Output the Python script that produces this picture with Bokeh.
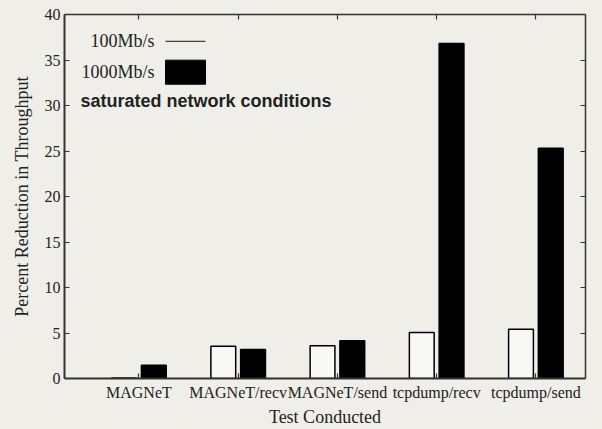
from bokeh.plotting import figure
from bokeh.models import Range1d, LinearAxis, FixedTicker, ColumnDataSource
from bokeh.core.properties import value
from bokeh.embed import file_html
from bokeh.resources import INLINE

# ---- data ----
categories = ["MAGNeT", "MAGNeT/recv", "MAGNeT/send", "tcpdump/recv", "tcpdump/send"]
rate_100 = [0.05, 3.55, 3.6, 5.05, 5.4]
rate_1000 = [1.45, 3.2, 4.15, 36.8, 25.3]
y_ticks = [0, 5, 10, 15, 20, 25, 30, 35, 40]
series_names = ["100Mb/s", "1000Mb/s"]
note_text = "saturated network conditions"

positions = list(range(1, len(categories) + 1))
src = ColumnDataSource(dict(
    x100=[x - 0.15 for x in positions],
    x1000=[x + 0.15 for x in positions],
    v100=rate_100,
    v1000=rate_1000,
))

BG = "#f0eee9"
SERIF = "Liberation Serif"
SANS = "Liberation Sans"
AX = "#333333"

p = figure(width=602, height=429,
           x_range=Range1d(0.25, 5.5), y_range=Range1d(0, 40),
           output_backend="svg", toolbar_location=None,
           min_border_left=64, min_border_right=17,
           min_border_top=14, min_border_bottom=49,
           background_fill_color=BG, border_fill_color=BG)
p.outline_line_color = None
p.xgrid.visible = False
p.ygrid.visible = False

# bars
p.vbar(x="x100", top="v100", bottom=0, width=0.25, source=src,
       fill_color="#f8f8f6", line_color="black", line_width=1.5)
p.vbar(x="x1000", top="v1000", bottom=0, width=0.25, source=src,
       fill_color="black", line_color="black", line_width=1.5)

# axes
def style(ax, ticks, labels=None, lw=1.5):
    ax.ticker = FixedTicker(ticks=ticks)
    ax.axis_line_color = AX
    ax.axis_line_width = lw
    ax.major_tick_line_color = AX
    ax.major_tick_line_width = 1.2
    ax.major_tick_in = 5
    ax.major_tick_out = 0
    ax.minor_tick_line_color = None
    ax.major_label_text_font = SERIF
    ax.major_label_text_font_size = "16px"
    ax.major_label_text_color = "#222222"
    if labels is not None:
        ax.major_label_overrides = {t: l for t, l in zip(ticks, labels)}

xa = p.xaxis[0]
style(xa, positions, categories, lw=2)
xa.major_label_standoff = 5
xa.axis_label = "Test Conducted"
xa.axis_label_text_font = SERIF
xa.axis_label_text_font_size = "18px"
xa.axis_label_text_font_style = "normal"
xa.axis_label_text_color = "#222222"
xa.axis_label_standoff = 3

ya = p.yaxis[0]
style(ya, y_ticks, lw=2)
ya.major_label_standoff = 4
ya.axis_label = "Percent Reduction in Throughput"
ya.axis_label_text_font = SERIF
ya.axis_label_text_font_size = "18px"
ya.axis_label_text_font_style = "normal"
ya.axis_label_text_color = "#222222"
ya.axis_label_standoff = 10

top = LinearAxis()
style(top, positions, ["" for _ in positions])
top.major_label_standoff = 0
p.add_layout(top, "above")
right = LinearAxis()
style(right, y_ticks, ["" for _ in y_ticks])
right.major_label_standoff = 0
p.add_layout(right, "right")

# key (gnuplot style: text, then sample)
key_text_x = 1.157
key_sample_x0, key_sample_x1 = 1.268, 1.671
key_y = [37.05, 33.66]
p.text(x=[key_text_x, key_text_x], y=key_y, text=series_names,
       text_font=value(SERIF), text_font_size=value("18px"),
       text_align="right", text_baseline="middle", text_color="#222222")
p.segment(x0=[key_sample_x0], y0=[key_y[0]], x1=[key_sample_x1], y1=[key_y[0]],
          line_color="#444444", line_width=1.2)
p.quad(left=[key_sample_x0], right=[key_sample_x1],
       bottom=[key_y[1] - 1.32], top=[key_y[1] + 1.32],
       fill_color="black", line_color="black")
p.text(x=[0.411], y=[30.5], text=[note_text],
       text_font=value(SANS), text_font_size=value("18px"),
       text_font_style="bold", text_align="left", text_baseline="middle",
       text_color="#222222")

html = file_html(p, INLINE)
html = html.replace("<head>", "<head><style>html,body{background:%s;}</style>" % BG, 1)
open("out.html", "w").write(html)
